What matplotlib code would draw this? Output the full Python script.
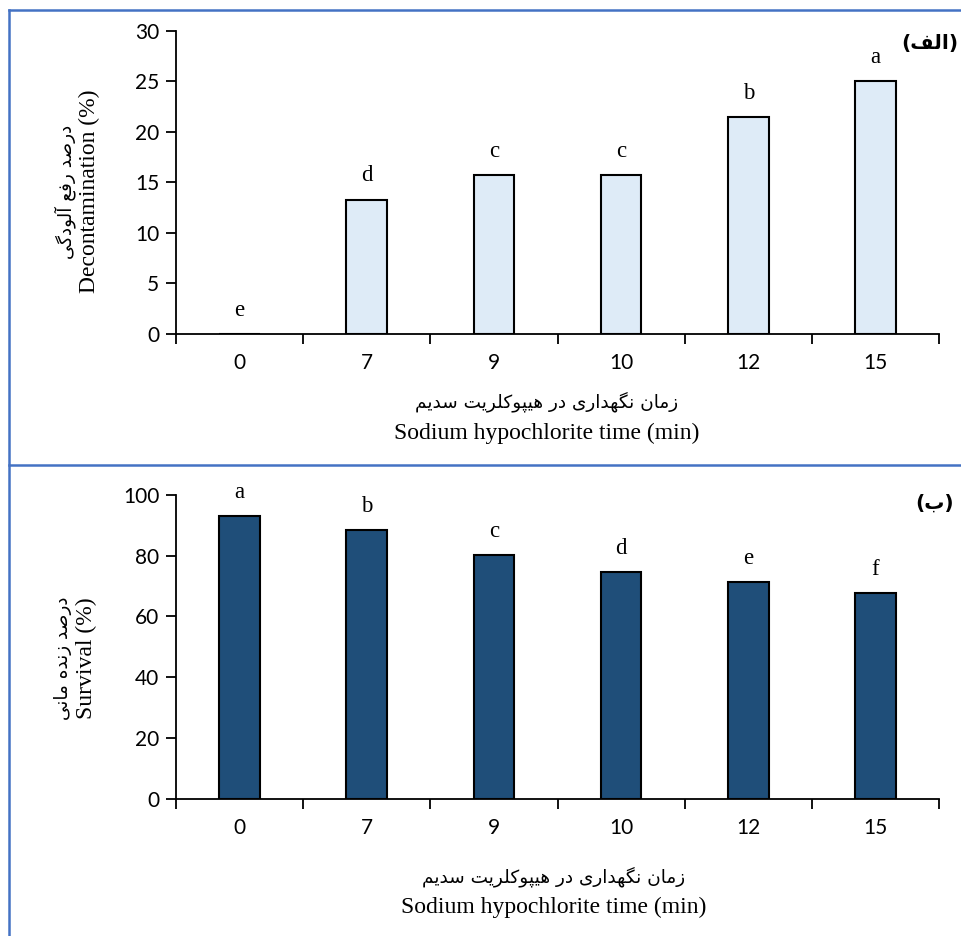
import matplotlib
matplotlib.use("Agg")
import matplotlib.pyplot as plt
from matplotlib.lines import Line2D

# data
times = ["0", "7", "9", "10", "12", "15"]
decontamination = [0, 13.3, 15.7, 15.7, 21.5, 25.0]
decon_letters = ["e", "d", "c", "c", "b", "a"]
survival = [92.9, 88.3, 80.1, 74.7, 71.4, 67.7]
surv_letters = ["a", "b", "c", "d", "e", "f"]

fa_xlabel = "زمان نگهداری در هیپوکلریت سدیم"
fa_ylabel_top = "درصد رفع آلودگی"
fa_ylabel_bottom = "درصد زنده مانی"
en_xlabel = "Sodium hypochlorite time (min)"
en_ylabel_top = "Decontamination (%)"
en_ylabel_bottom = "Survival (%)"
panel_top = "الف"
panel_bottom = "ب"

# contextual forms: isolated, final, initial, medial
FORMS = {
    'ا': ('\uFE8D', '\uFE8E', None, None),
    'آ': ('\uFE81', '\uFE82', None, None),
    'ب': ('\uFE8F', '\uFE90', '\uFE91', '\uFE92'),
    'پ': ('\uFB56', '\uFB57', '\uFB58', '\uFB59'),
    'ت': ('\uFE95', '\uFE96', '\uFE97', '\uFE98'),
    'د': ('\uFEA9', '\uFEAA', None, None),
    'ر': ('\uFEAD', '\uFEAE', None, None),
    'ز': ('\uFEAF', '\uFEB0', None, None),
    'س': ('\uFEB1', '\uFEB2', '\uFEB3', '\uFEB4'),
    'ص': ('\uFEB9', '\uFEBA', '\uFEBB', '\uFEBC'),
    'ع': ('\uFEC9', '\uFECA', '\uFECB', '\uFECC'),
    'ف': ('\uFED1', '\uFED2', '\uFED3', '\uFED4'),
    'ک': ('\uFB8E', '\uFB8F', '\uFB90', '\uFB91'),
    'گ': ('\uFB92', '\uFB93', '\uFB94', '\uFB95'),
    'ل': ('\uFEDD', '\uFEDE', '\uFEDF', '\uFEE0'),
    'م': ('\uFEE1', '\uFEE2', '\uFEE3', '\uFEE4'),
    'ن': ('\uFEE5', '\uFEE6', '\uFEE7', '\uFEE8'),
    'و': ('\uFEED', '\uFEEE', None, None),
    'ه': ('\uFEE9', '\uFEEA', '\uFEEB', '\uFEEC'),
    'ی': ('\uFBFC', '\uFBFD', '\uFBFE', '\uFBFF'),
}


def fa(text):
    # simple shaping + reversal since matplotlib has no rtl support
    out = []
    for i, ch in enumerate(text):
        if ch not in FORMS:
            out.append(ch)
            continue
        prev = text[i - 1] if i > 0 else ''
        nxt = text[i + 1] if i < len(text) - 1 else ''
        join_prev = prev in FORMS and FORMS[prev][2] is not None
        join_next = FORMS[ch][2] is not None and nxt in FORMS
        f = FORMS[ch]
        if join_prev and join_next:
            out.append(f[3])
        elif join_prev:
            out.append(f[1])
        elif join_next:
            out.append(f[2])
        else:
            out.append(f[0])
    return ''.join(out)[::-1]


W, H = 961, 936
fig = plt.figure(figsize=(W / 100, H / 100), dpi=100)

tick_font = "Lato"
serif = "Liberation Serif"
fa_font = "DejaVu Sans"


def draw_panel(ax, values, letters, ymax, ystep, color):
    x = list(range(len(times)))
    ax.bar(x, values, width=0.32, color=color, edgecolor="black", linewidth=1.5, zorder=2)
    ax.set_xlim(-0.5, len(times) - 0.5)
    ax.set_ylim(0, ymax)
    ax.set_yticks(range(0, ymax + 1, ystep))
    ax.set_xticks([i - 0.5 for i in range(len(times) + 1)])
    ax.set_xticklabels([])
    ax.set_xticks(x, minor=True)
    ax.set_xticklabels(times, minor=True)
    ax.tick_params(axis="x", which="minor", length=0, pad=14, labelsize=15)
    ax.tick_params(axis="x", which="major", length=7, width=1.3, direction="out")
    ax.tick_params(axis="y", length=7, width=1.3, labelsize=15, pad=5)
    for lab in ax.get_xticklabels(minor=True) + ax.get_yticklabels():
        lab.set_fontfamily(tick_font)
    for s in ["top", "right"]:
        ax.spines[s].set_visible(False)
    for s in ["left", "bottom"]:
        ax.spines[s].set_linewidth(1.3)
    for xi, v, l in zip(x, values, letters):
        ax.annotate(l, (xi, v), xytext=(0, 17), textcoords="offset points",
                    ha="center", va="center", fontsize=16.5, family=serif)


ax1 = fig.add_axes([176 / W, 1 - 334 / H, (939 - 176) / W, (334 - 30.7) / H])
draw_panel(ax1, decontamination, decon_letters, 30, 5, "#DEEBF7")

ax2 = fig.add_axes([176 / W, 1 - 798.7 / H, (939 - 176) / W, (798.7 - 494.7) / H])
draw_panel(ax2, survival, surv_letters, 100, 20, "#1F4E79")

# axis titles, persian line + english line
fig.text(65 / W, 1 - 192 / H, fa(fa_ylabel_top), rotation=90, ha="center", va="center",
         fontsize=13.2, family=fa_font)
fig.text(89 / W, 1 - 191 / H, en_ylabel_top, rotation=90, ha="center", va="center",
         fontsize=17, family=serif)
fig.text(547 / W, 1 - 402 / H, fa(fa_xlabel), ha="center", va="center", fontsize=13.3, family=fa_font)
fig.text(547 / W, 1 - 433 / H, en_xlabel, ha="center", va="center", fontsize=17, family=serif)

fig.text(63 / W, 1 - 658 / H, fa(fa_ylabel_bottom), rotation=90, ha="center", va="center",
         fontsize=13.2, family=fa_font)
fig.text(86 / W, 1 - 658 / H, en_ylabel_bottom, rotation=90, ha="center", va="center",
         fontsize=17, family=serif)
fig.text(554 / W, 1 - 877 / H, fa(fa_xlabel), ha="center", va="center", fontsize=13.3, family=fa_font)
fig.text(554 / W, 1 - 907 / H, en_xlabel, ha="center", va="center", fontsize=17, family=serif)

# panel tags
fig.text(958 / W, 1 - 43 / H, "(" + fa(panel_top) + ")", ha="right", va="center",
         fontsize=14.5, fontweight="bold", family=fa_font)
fig.text(954 / W, 1 - 503 / H, "(" + fa(panel_bottom) + ")", ha="right", va="center",
         fontsize=14.5, fontweight="bold", family=fa_font)

# blue frame lines
blue = "#4472C4"
fig.add_artist(Line2D([9 / W, 1], [1 - 10 / H, 1 - 10 / H], color=blue, lw=1.8))
fig.add_artist(Line2D([9 / W, 9 / W], [0, 1 - 10 / H], color=blue, lw=1.8))
fig.add_artist(Line2D([9 / W, 1], [1 - 465 / H, 1 - 465 / H], color=blue, lw=1.8))

fig.savefig("out.png", dpi=100)
